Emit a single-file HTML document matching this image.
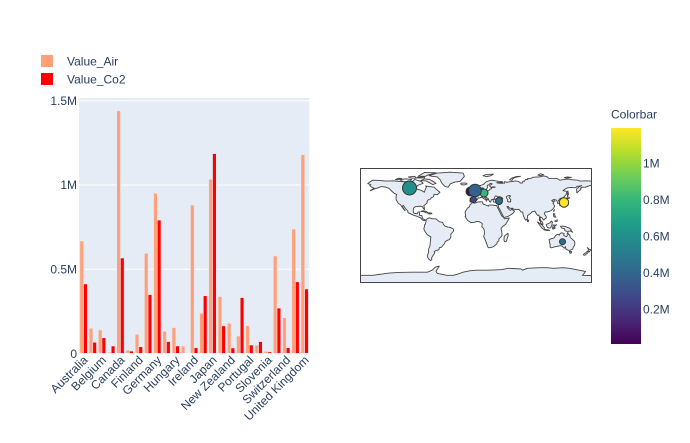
<!DOCTYPE html>
<html>
<head>
<meta charset="utf-8">
<style>
html,body{margin:0;padding:0;background:#fff;}
svg{display:block;}
text{font-family:"Liberation Sans",sans-serif;font-size:12px;fill:#2a3f5f;}
</style>
</head>
<body>
<svg width="690" height="443" viewBox="0 0 690 443" xmlns="http://www.w3.org/2000/svg">
<defs>
<linearGradient id="vir" x1="0" y1="1" x2="0" y2="0">
<stop offset="0" stop-color="#440154"/>
<stop offset="0.111" stop-color="#482878"/>
<stop offset="0.222" stop-color="#3e4989"/>
<stop offset="0.333" stop-color="#31688e"/>
<stop offset="0.444" stop-color="#26828e"/>
<stop offset="0.556" stop-color="#1f9e89"/>
<stop offset="0.667" stop-color="#35b779"/>
<stop offset="0.778" stop-color="#6ece58"/>
<stop offset="0.889" stop-color="#b5de2b"/>
<stop offset="1" stop-color="#fde725"/>
</linearGradient>
</defs>

<!-- Bar plot background -->
<rect x="79" y="98" width="230.3" height="255.6" fill="#E5ECF6"/>
<g stroke="#fff" stroke-width="1">
<line x1="79" x2="309.3" y1="100.7" y2="100.7"/>
<line x1="79" x2="309.3" y1="185" y2="185"/>
<line x1="79" x2="309.3" y1="269.3" y2="269.3"/>
</g>

<!-- Air bars -->
<g fill="#FFA07A" stroke="#E5ECF6" stroke-width="0.5">
<rect x="79.93" y="241.0" width="3.68" height="112.6"/>
<rect x="89.14" y="328.3" width="3.68" height="25.3"/>
<rect x="98.35" y="330.0" width="3.68" height="23.6"/>
<rect x="107.56" y="352.3" width="3.68" height="1.3"/>
<rect x="116.77" y="110.8" width="3.68" height="242.8"/>
<rect x="125.99" y="350.1" width="3.68" height="3.5"/>
<rect x="135.20" y="334.4" width="3.68" height="19.2"/>
<rect x="144.41" y="253.3" width="3.68" height="100.3"/>
<rect x="153.62" y="193.3" width="3.68" height="160.3"/>
<rect x="162.83" y="331.3" width="3.68" height="22.3"/>
<rect x="172.05" y="327.6" width="3.68" height="26.0"/>
<rect x="181.26" y="346.0" width="3.68" height="7.6"/>
<rect x="190.47" y="205.1" width="3.68" height="148.5"/>
<rect x="199.68" y="313.3" width="3.68" height="40.3"/>
<rect x="208.89" y="179.3" width="3.68" height="174.3"/>
<rect x="218.11" y="296.6" width="3.68" height="57.0"/>
<rect x="227.32" y="323.3" width="3.68" height="30.3"/>
<rect x="236.53" y="336.1" width="3.68" height="17.5"/>
<rect x="245.74" y="325.6" width="3.68" height="28.0"/>
<rect x="254.95" y="345.3" width="3.68" height="8.3"/>
<rect x="264.17" y="351.4" width="3.68" height="2.2"/>
<rect x="273.38" y="256.0" width="3.68" height="97.6"/>
<rect x="282.59" y="317.7" width="3.68" height="35.9"/>
<rect x="291.80" y="229.0" width="3.68" height="124.6"/>
<rect x="301.01" y="154.7" width="3.68" height="198.9"/>
</g>
<!-- Co2 bars -->
<g fill="#FF0000" stroke="#E5ECF6" stroke-width="0.5">
<rect x="83.61" y="284.0" width="3.68" height="69.6"/>
<rect x="92.82" y="342.3" width="3.68" height="11.3"/>
<rect x="102.03" y="337.8" width="3.68" height="15.8"/>
<rect x="111.24" y="346.0" width="3.68" height="7.6"/>
<rect x="120.45" y="258.0" width="3.68" height="95.6"/>
<rect x="129.67" y="351.1" width="3.68" height="2.5"/>
<rect x="138.88" y="346.7" width="3.68" height="6.9"/>
<rect x="148.09" y="294.6" width="3.68" height="59.0"/>
<rect x="157.30" y="220.1" width="3.68" height="133.5"/>
<rect x="166.51" y="341.6" width="3.68" height="12.0"/>
<rect x="175.73" y="346.0" width="3.68" height="7.6"/>
<rect x="184.94" y="353.1" width="3.68" height="0.5"/>
<rect x="194.15" y="347.7" width="3.68" height="5.9"/>
<rect x="203.36" y="295.8" width="3.68" height="57.8"/>
<rect x="212.57" y="153.6" width="3.68" height="200.0"/>
<rect x="221.79" y="325.9" width="3.68" height="27.7"/>
<rect x="231.00" y="348.0" width="3.68" height="5.6"/>
<rect x="240.21" y="297.6" width="3.68" height="56.0"/>
<rect x="249.42" y="345.0" width="3.68" height="8.6"/>
<rect x="258.63" y="341.6" width="3.68" height="12.0"/>
<rect x="267.85" y="351.9" width="3.68" height="1.7"/>
<rect x="277.06" y="308.1" width="3.68" height="45.5"/>
<rect x="286.27" y="347.7" width="3.68" height="5.9"/>
<rect x="295.48" y="281.9" width="3.68" height="71.7"/>
<rect x="304.69" y="289.0" width="3.68" height="64.6"/>
</g>
<line x1="79" x2="309.3" y1="353.6" y2="353.6" stroke="#fff" stroke-width="1"/>

<!-- Y tick labels -->
<g text-anchor="end">
<text x="77" y="105">1.5M</text>
<text x="77" y="189">1M</text>
<text x="77" y="273.5">0.5M</text>
<text x="77" y="358">0</text>
</g>

<!-- X tick labels -->
<g text-anchor="end">
<text transform="translate(85.6,358) rotate(-45)" y="4">Australia</text>
<text transform="translate(104.0,358) rotate(-45)" y="4">Belgium</text>
<text transform="translate(122.5,358) rotate(-45)" y="4">Canada</text>
<text transform="translate(140.9,358) rotate(-45)" y="4">Finland</text>
<text transform="translate(159.3,358) rotate(-45)" y="4">Germany</text>
<text transform="translate(177.7,358) rotate(-45)" y="4">Hungary</text>
<text transform="translate(196.2,358) rotate(-45)" y="4">Ireland</text>
<text transform="translate(214.6,358) rotate(-45)" y="4">Japan</text>
<text transform="translate(233.0,358) rotate(-45)" y="4">New Zealand</text>
<text transform="translate(251.4,358) rotate(-45)" y="4">Portugal</text>
<text transform="translate(269.9,358) rotate(-45)" y="4">Slovenia</text>
<text transform="translate(288.3,358) rotate(-45)" y="4">Switzerland</text>
<text transform="translate(306.7,358) rotate(-45)" y="4">United Kingdom</text>
</g>

<!-- Legend -->
<rect x="41" y="55" width="12" height="12" fill="#FFA07A"/>
<text x="67" y="65.5">Value_Air</text>
<rect x="41" y="73" width="12" height="12" fill="#FF0000"/>
<text x="67" y="83.5">Value_Co2</text>

<!-- Map -->
<svg x="360" y="168" width="232" height="115" viewBox="-180 -90 360 180" preserveAspectRatio="none" overflow="hidden">
<g transform="scale(1,-1)" fill="#E5ECF6" stroke="#444" stroke-width="0.9" stroke-linejoin="round">
<!-- North America -->
<polygon vector-effect="non-scaling-stroke" points="-165,68 -160,71 -150,70.5 -140,69.5 -128,70 -115,68.5 -100,68 -95,72 -85,69 -82,66 -90,63 -94,59 -92,57 -85,55 -80,52 -79,56 -77,60 -78,62 -72,61 -65,60 -62,57 -56,52 -60,48 -65,49 -66,45 -70,43 -70,41.5 -74,40.5 -76,37 -76,35 -81,31 -80,27 -80,25 -82,27 -83,29.5 -86,30.3 -89,30 -94,29.5 -97,27 -97.5,22 -96,19 -91,18.5 -90,21 -87,21.5 -88,16 -84,15.5 -83,11 -79.5,9 -77.5,8.5 -80,7.5 -83,8.5 -86,12 -92,14.5 -96,15.7 -105.5,20 -106,23 -109,26 -112.7,31.5 -114.5,30 -112,26.5 -110,23 -111.5,24.5 -114,28 -115.5,30 -117,32.5 -120.5,34.5 -124,40.5 -124,46 -123,48.5 -127,50.5 -131,54 -135,58 -140,60 -147,61 -152,59 -158,57 -164,54.5 -158,58.5 -162,60 -165,62.5 -163,64 -168,65.5"/>
<!-- Greenland -->
<polygon vector-effect="non-scaling-stroke" points="-73,78 -60,82 -40,83.5 -20,82 -18,77 -22,72 -25,69 -33,68 -40,65 -43,60 -48,61 -52,65 -54,68 -55,71 -60,76 -68,77"/>
<!-- Arctic islands -->
<polygon vector-effect="non-scaling-stroke" points="-80,73 -72,72 -65,68 -62,66 -67,64 -72,67 -78,70 -86,70"/>
<polygon vector-effect="non-scaling-stroke" points="-90,77 -80,83 -62,82.5 -75,79 -78,77"/>
<polygon vector-effect="non-scaling-stroke" points="-118,71.5 -110,73 -100,72 -103,68.5 -113,68.5"/>
<polygon vector-effect="non-scaling-stroke" points="-125,72 -120,74 -115,73.5 -122,71.5"/>
<polygon vector-effect="non-scaling-stroke" points="-105,76 -95,77 -93,74 -100,74"/>
<polygon vector-effect="non-scaling-stroke" points="-92,75 -80,76.5 -80,74.5 -92,74.5"/>
<!-- Caribbean -->
<polygon vector-effect="non-scaling-stroke" points="-85,22 -82,23.2 -77,22 -74,20 -78,19.8 -80,21.5"/>
<polygon vector-effect="non-scaling-stroke" points="-74.5,18.5 -72,19.9 -69,19.5 -68.4,18.6 -71,18"/>
<!-- South America -->
<polygon vector-effect="non-scaling-stroke" points="-77.5,8.5 -75,11 -72,12 -68,10.5 -62,10.5 -60,8.5 -57,6 -52,5 -50,1 -48,-1 -44,-2.5 -40,-3 -35,-5.5 -35,-9 -39,-13.5 -39,-18 -41,-22 -44,-23 -48,-25.5 -48.5,-28 -52,-32 -53.5,-34 -57,-35 -57.5,-38 -62,-39 -65,-41 -64,-43 -66,-46 -67.5,-48 -69,-51 -68.5,-53 -70,-55 -73,-53 -75,-50 -75,-46 -73.5,-42 -73.5,-37 -71.5,-32 -71,-27 -70,-18 -76,-14 -80,-8 -81,-5 -80,-2 -80,1 -78.5,2 -77.5,7"/>
<!-- Africa -->
<polygon vector-effect="non-scaling-stroke" points="-17,21 -16,15 -17,14.5 -15,11 -13,8 -8,4.5 -3,5 2,6.3 5,6 7,4.5 9.5,3.5 9.5,0 9,-2 12,-5 13,-9 13,-13 12,-17.5 14.5,-23 16.5,-28.5 18.5,-34 20,-35 25,-34 28,-32.5 32.5,-28.5 32.8,-26 35.5,-24 35.5,-21 39.5,-17 40.5,-15 40,-10 39,-6 39,-4.5 41.5,-1.5 46,2 51,10.5 51.5,11.8 44,10.5 43,12.5 39.5,15.5 38.5,18 37,21 35.5,24 32.5,30 32.3,31.2 30,31.3 25,32 20,32 19.5,30.3 15,32.2 11,33.5 10,37 8,37 3,36.8 -2,35 -6,35.8 -9.5,32 -10,29.5 -13,27.5 -15,24.5"/>
<polygon vector-effect="non-scaling-stroke" points="44,-25 47,-25 50,-15.5 49.5,-12 44,-16.5 43.3,-22"/>
<!-- Eurasia -->
<polygon vector-effect="non-scaling-stroke" points="-9,43 -9.5,39 -9,37 -6,36.5 -5.5,36 -2,36.7 0,38.5 3,42 3,43.3 6,43 8.5,44.3 10,43.8 12,42 15.5,40 16,38 16.5,39.5 17,40.5 18.5,40.2 16,41.5 13.5,44 12.3,45.5 13.7,45.6 15,44.5 19,42 20,39.5 21.5,37 23,36.5 23,38 24,40.5 26,41 28.5,41 26.3,40 27,37.5 28,36.7 30.5,36.3 33,36.2 36,36.5 36,34.5 35,33 34.5,31.5 34.8,29.5 35,28 36.5,26 38.5,22 41,17 43,13 45,12.8 49,14 52,15.5 55,17.5 57,18.8 58.5,20.5 59.8,22.5 58.5,23.7 56.5,24.5 56,26 54,24 51.5,24.5 51,26 50,26.5 48,29.5 50,30 51,28 54,26.7 57,27 57.5,25.7 61.5,25.2 66.5,25.4 68,23.7 70,21 72.5,21 73,17 74.5,13 76,10 77.5,8 79,9.5 80,13 80,15.5 82,17 86,20 87,21.5 89,22 91.5,22.5 92.3,20.7 94.5,17 95.5,15.8 97.5,16.5 98.5,13 98.5,10 98.3,8 100,6.5 100.5,3.5 103.5,1.3 104,2 103.3,4.5 102.5,6.2 101,6.9 100,9 99.5,11 100,13.5 102,12.5 103,11 105,8.6 106.7,10.4 109,11.5 109,14 106.5,17.5 106,19.5 108,21.5 110,21 111,21.5 114,22.3 117,23.5 119.5,26 121,28 122,30.5 121,32 120.5,34 119.2,35 121,37 122.5,37.2 119,37.5 118,38.5 117.5,39 121.5,41 122,40 121,39 122.5,40 124.5,40 126,37.7 126.5,34.5 129,35 129.5,37 128,39 129.5,41 130.5,42.5 133,43 135.5,43.7 138,46.5 140,48.5 140.5,51 141.3,53 139,54 137,54 135,54.7 139,57.5 142,59 149,59.5 152,59 155,59.3 157,61.5 160,61.5 164,62.5 160,60.5 156,57 156.5,51 158.5,53 162,56 163,57.8 162,58.5 165,60 170,60 174,61.7 178,62.5 180,64.5 180,68.5 178,69.5 170,70 161,69.5 158,71 150,71.5 143,72.7 140,72.5 130,71 128,72.5 125,73.5 113,73.7 110,76.5 105,77.5 101,76.5 98,76 95,76 88,75.5 86,74 80,73.5 80.5,72 77,72.3 75,69 73,69.5 72,66.5 69,66.5 66,69 61,69.8 55,68.5 53,68.5 48,67.7 44,68.5 44,66 41,67 41,66 38,66 34,66.5 32,67 41,67.5 41,68.5 36,69 30,70 25,71 20,70 16,68.5 13,66 12,64.5 8,63 5,62 5,59 7,58 8.5,58.5 11,59 11.5,58 12,56 13,55.5 14.3,56 16,56.5 16.5,57.5 18,59.3 17.5,61 17.5,62.5 21,64.5 22,65.8 25,65.5 24.5,64.5 21.5,62.8 21.5,61 23,60 28,60.5 30,60 25,59.3 23.5,59.2 24,57.5 21.5,57.2 21,55.5 19.5,54.5 16,54.3 14,54 11,54 10,54.5 11,56.5 10.5,57.5 8.3,57 8,55 8.5,53.5 7,53.5 5,53 4,51.5 1.5,51 0,49.5 -1.5,49.5 -2,48.7 -4.5,48.6 -3,47.5 -1,46 -1.5,43.5 -4,43.5"/>
<!-- Inland seas -->
<polygon vector-effect="non-scaling-stroke" fill="#fff" points="28,41.2 29,41.2 33,42 36,41.5 41.5,41.5 41.5,42.5 39,44.5 37.5,45 35,45 33.5,44.5 32.5,45.5 30.7,46.5 29.6,45.3 28.5,43.5"/>
<polygon vector-effect="non-scaling-stroke" fill="#fff" points="47,45 50,46.7 53,47 53.3,45.3 51,44.5 52.7,41.7 54,41 53.5,38.5 54,37.3 51,36.7 49,37.7 49.5,40.5 47.5,42.5"/>
<!-- British Isles, Iceland -->
<polygon vector-effect="non-scaling-stroke" points="-5,50 1.5,51 1.7,52.7 0,53.5 -1,54.5 -2,55.9 -1.8,57.6 -3.5,58.6 -5,58.6 -6,57 -5.5,56 -5,55 -3,54.8 -3,53.5 -4.5,53 -5,51.8 -3,51.3 -5.5,50"/>
<polygon vector-effect="non-scaling-stroke" points="-6,52 -6,54 -5.5,54.8 -8,55.3 -10,54 -10,51.6 -8,51.6"/>
<polygon vector-effect="non-scaling-stroke" points="-24,65.5 -22,66.4 -16,66.5 -13.5,65 -18,63.4 -22.5,63.8"/>
<!-- Arctic Eurasia islands -->
<polygon vector-effect="non-scaling-stroke" points="52,71.5 56,74.5 62,76.5 69,77 60,75 57,73 56,70.8"/>
<polygon vector-effect="non-scaling-stroke" points="11,78 16,80 27,80.3 22,77.5 16,76.5"/>
<polygon vector-effect="non-scaling-stroke" points="96,79 100,81 105,79.5 100,78"/>
<polygon vector-effect="non-scaling-stroke" points="137,75 142,76 148,75.3 140,74"/>
<!-- Japan etc -->
<polygon vector-effect="non-scaling-stroke" points="130,31 131.5,31.5 132,33.5 135,33.5 137,34.5 140,35 141,37 142,39.5 141.5,41.5 140,40.5 140,39 139,38 137,37 136,36 133,35.5 131,34.5 130,33.5"/>
<polygon vector-effect="non-scaling-stroke" points="140,42 141.5,42.5 143.3,42 145.5,43.3 142,45.4 141.5,44"/>
<polygon vector-effect="non-scaling-stroke" points="142,46 143.5,49 143,52 142.5,54.2 142,51"/>
<polygon vector-effect="non-scaling-stroke" points="120.2,22.5 121.7,25 121.5,24 121,22"/>
<polygon vector-effect="non-scaling-stroke" points="120,18.5 122.3,18.5 122,16 124,13 121.5,13.5 120.5,14.5"/>
<polygon vector-effect="non-scaling-stroke" points="122,7 126,9 126,6.5 124,6"/>
<polygon vector-effect="non-scaling-stroke" points="80,9.8 81.8,7.5 81,6 80,6 79.7,8"/>
<!-- Indonesia / PNG -->
<polygon vector-effect="non-scaling-stroke" points="95.3,5.5 98,4 102,1 104,-1 106,-3 106,-5.8 104.5,-5.8 101,-2.5 98.5,1"/>
<polygon vector-effect="non-scaling-stroke" points="105.5,-6.8 106,-6 110.5,-6.8 112.5,-6.8 114.5,-7.8 110,-8"/>
<polygon vector-effect="non-scaling-stroke" points="109,1.5 111,2.5 113,3.2 115.5,5 117,7 119,5 118,4 118,1 117.5,0 116.5,-2 116,-3.8 114.5,-4 111,-3 110,-1.5 109,0"/>
<polygon vector-effect="non-scaling-stroke" points="119,-5.5 120.5,-5.5 120.5,-3 122,-4.7 123,-4 121.5,-1.5 123,-0.8 125,1.5 124,0.5 120,0.8 119.5,-1 118.8,-3"/>
<polygon vector-effect="non-scaling-stroke" points="131,-1.2 134,-0.8 138,-1.5 141,-2.6 145,-4.2 147.5,-6 147.5,-8 150,-10.5 146,-8.5 143.5,-9 141,-9.1 138,-8.4 137.5,-5 133,-4 132,-2.5"/>
<!-- Australia / NZ -->
<polygon vector-effect="non-scaling-stroke" points="113.5,-22 114,-26 115,-30 115,-34 117.5,-35 120,-34 124,-33 127,-32.3 131,-31.5 134,-32.5 136,-35 138,-35.5 138,-34 138.5,-33 140,-37.5 143,-38.7 146,-39 148,-37.8 150,-37 151,-34 153,-31 153.5,-28 153,-25 150.5,-22.5 149,-21 146,-18.5 145.5,-15 143.5,-14 142.5,-10.7 141.5,-13 141.5,-16 140.5,-17.5 139,-17 136,-15.5 136.8,-12.2 135.5,-12 132.5,-11.5 131,-12.2 130,-13.5 129.5,-15 127,-14 125,-14.5 123,-16.5 121,-19.5 117,-20.7 114,-21.8"/>
<polygon vector-effect="non-scaling-stroke" points="144.7,-40.7 148.3,-40.9 148,-43 146,-43.6"/>
<polygon vector-effect="non-scaling-stroke" points="172.7,-34.5 174.5,-36 176,-37.5 178.5,-37.7 177,-39.3 176,-41.3 175,-41.4 174.7,-39.8 173.8,-39.2 174.6,-37"/>
<polygon vector-effect="non-scaling-stroke" points="172.7,-40.5 174.3,-41.3 173,-43.5 171,-44.5 169,-46.6 166.5,-46 168,-44 171,-42"/>
<!-- Antarctica -->
<polygon vector-effect="non-scaling-stroke" points="-181,-78 -160,-78 -150,-76.5 -135,-74.5 -120,-73.5 -100,-73 -90,-73 -75,-73 -68,-70 -63,-65 -57,-63.5 -60,-68 -62,-72 -60,-75 -45,-78 -35,-78 -28,-76 -20,-73 -10,-71 0,-70 15,-70 30,-69.5 40,-69 50,-67 60,-67.5 70,-68 72,-70 80,-67 90,-66.5 100,-66 110,-66 120,-67 135,-66 145,-67 155,-69 165,-71 170,-72 167,-76 165,-78 181,-78.5 181,-95 -181,-95"/>
</g>
</svg>
<rect x="360.5" y="168.5" width="231" height="114" fill="none" stroke="#444" stroke-width="1"/>

<!-- Bubbles -->
<g stroke="#333" stroke-width="1">
<circle cx="409.5" cy="188" r="7" fill="#21908d"/>
<circle cx="470.5" cy="191.5" r="4.5" fill="#46085c"/>
<circle cx="484" cy="193" r="4" fill="#35b779"/>
<circle cx="475" cy="190.5" r="6.3" fill="#33638d"/>
<circle cx="473.5" cy="199.5" r="3" fill="#3e4989"/>
<circle cx="499" cy="201" r="3.5" fill="#2d708e"/>
<circle cx="564" cy="202.5" r="4.7" fill="#fde725"/>
<circle cx="562.5" cy="241.7" r="3" fill="#2e6d8e"/>
</g>

<!-- Colorbar -->
<text x="611" y="118.5">Colorbar</text>
<rect x="611" y="128" width="30" height="216" fill="url(#vir)"/>
<text x="643" y="167.5">1M</text>
<text x="643" y="204">0.8M</text>
<text x="643" y="240.5">0.6M</text>
<text x="643" y="277">0.4M</text>
<text x="643" y="313.5">0.2M</text>
</svg>
</body>
</html>
